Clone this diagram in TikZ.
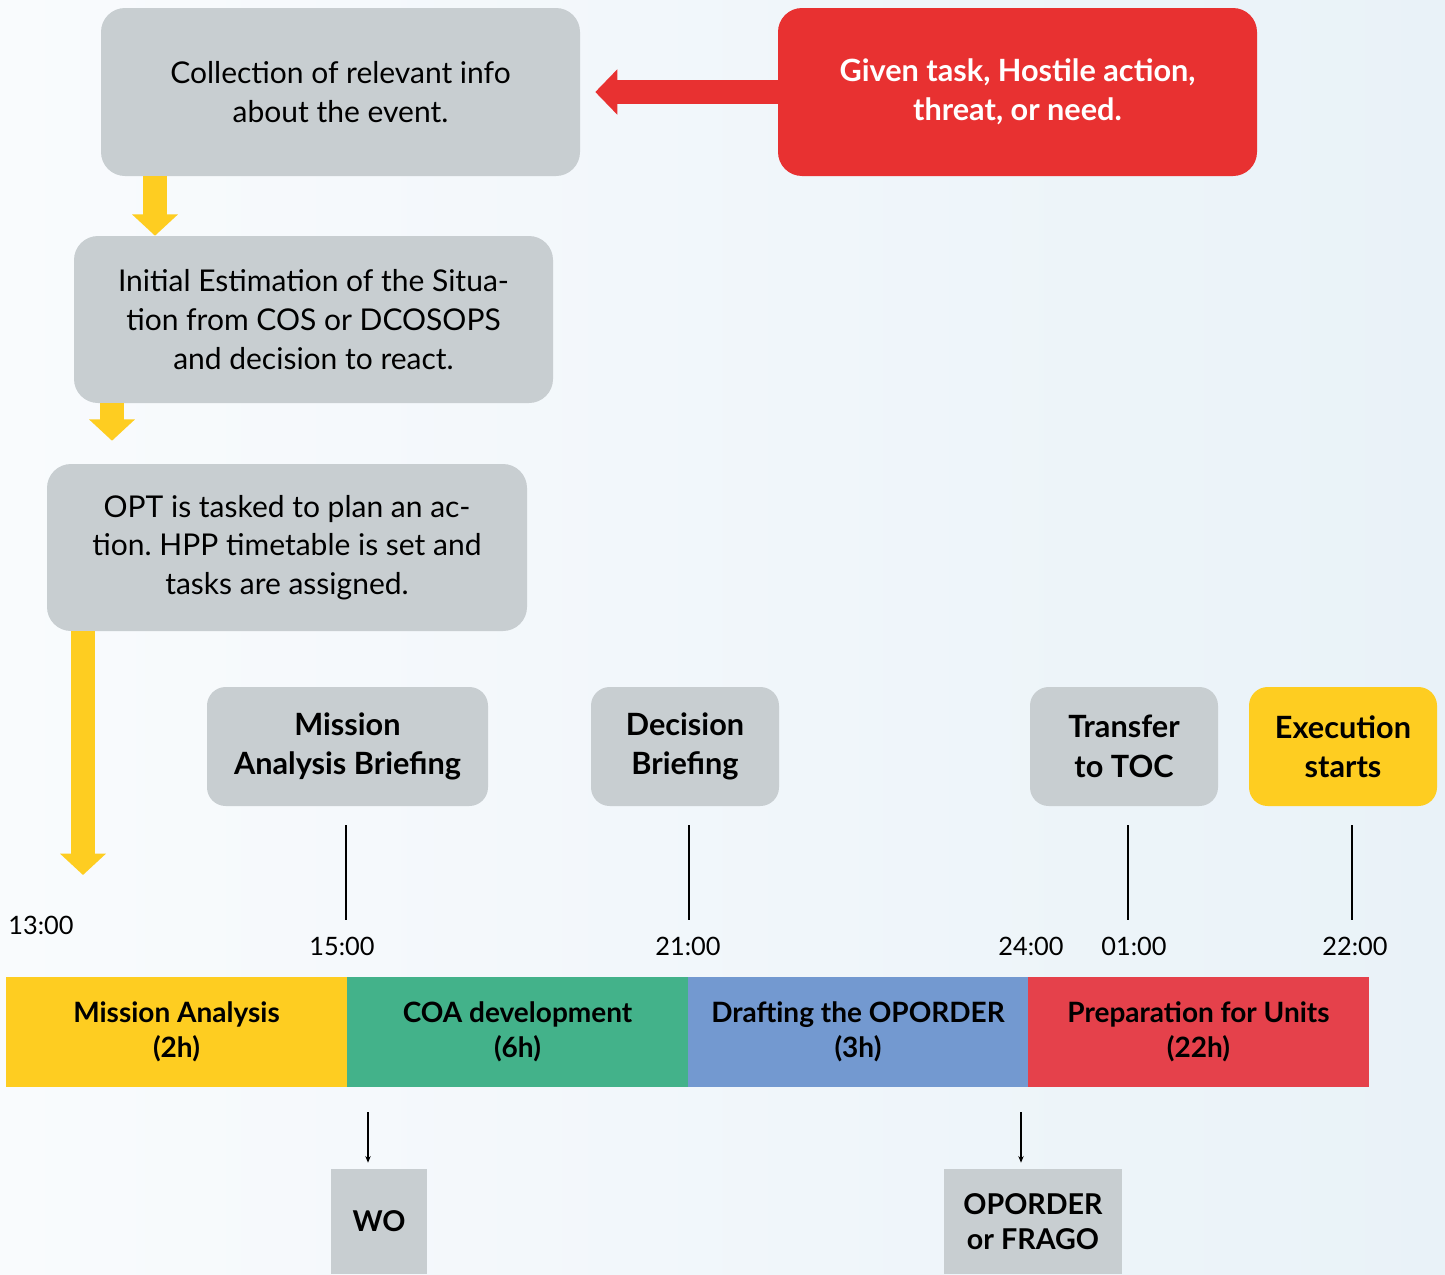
\documentclass[tikz,border=0pt]{standalone}
\usepackage{fontspec}
\setmainfont{Lato}
\frenchspacing
\usetikzlibrary{arrows.meta,calc}
\definecolor{bgA}{HTML}{F9FBFD}
\definecolor{bgB}{HTML}{E9F2F8}
\definecolor{gbox}{HTML}{C8CED1}
\definecolor{redbox}{HTML}{E83131}
\definecolor{ybox}{HTML}{FECD21}
\definecolor{gseg}{HTML}{43B28A}
\definecolor{bseg}{HTML}{7399D0}
\definecolor{rseg}{HTML}{E5414B}
\begin{document}
\begin{tikzpicture}[x=0.75pt,y=-0.75pt,
  infobox/.style={fill=gbox, rounded corners=18pt, align=center, inner sep=0pt,
    font=\fontsize{22.5}{29}\selectfont},
  headbox/.style={fill=gbox, rounded corners=14pt, align=center, inner sep=0pt,
    font=\bfseries\fontsize{23}{29.5}\selectfont, minimum height=89.25pt},
  segbox/.style={align=center, inner sep=0pt, minimum height=82.5pt, minimum width=255.75pt,
    font=\bfseries\fontsize{21}{26}\selectfont},
  docbox/.style={fill=gbox, align=center, inner sep=0pt, minimum height=78.75pt,
    font=\bfseries\fontsize{21.5}{26}\selectfont},
  timelbl/.style={font=\fontsize{19}{20}\selectfont, inner sep=0pt},
  tick/.style={line width=1.5pt, black},
  yarrow/.style={draw=ybox, line width=18pt, -{Triangle[width=33.5pt,length=16pt]}},
  rarrow/.style={draw=redbox, line width=18pt, -{Triangle[width=33pt,length=16.5pt]}},
  smallarrow/.style={line width=1.2pt, -{Stealth[length=5pt,width=4pt]}}
]
\useasboundingbox (0,0) rectangle (1445,1274);
\shade[left color=bgA, right color=bgB] (0,0) rectangle (1445,1274);

% top flow boxes
\node[infobox, minimum width=359.25pt, minimum height=126pt] (b1) at (340.5,92)
  {Collection of relevant info\\about the event.};
\node[infobox, fill=redbox, text=white, font=\bfseries\fontsize{23}{29}\selectfont,
  minimum width=359.25pt, minimum height=126pt] (given) at (1017.5,92)
  {Given task, Hostile action,\\threat, or need.};
\node[infobox, minimum width=359.25pt, minimum height=125.25pt] (b2) at (313.5,319.5)
  {Initial Estimation of the Situa-\\tion from COS or DCOSOPS\\and decision to react.};
\node[infobox, minimum width=360pt, minimum height=125.25pt] (b3) at (287,547.5)
  {OPT is tasked to plan an ac-\\tion. HPP timetable is set and\\tasks are assigned.};

% flow arrows
\draw[rarrow, shorten >=11.25pt] (given.west) -- (b1.east);
\coordinate (x1) at (155,0);
\coordinate (x2) at (112,0);
\coordinate (x3) at (83,0);
\coordinate (a3end) at (83,875);
\draw[yarrow] (b1.south -| x1) -- (b2.north -| x1);
\draw[yarrow] (b2.south -| x2) -- ($(b3.north -| x2)+(0,-23)$);
\draw[yarrow] (b3.south -| x3) -- (a3end);

% milestone boxes
\node[headbox, minimum width=210.75pt] (mab) at (347.5,746.5) {Mission\\Analysis Briefing};
\node[headbox, minimum width=141pt] (db) at (685,746.5) {Decision\\Briefing};
\node[headbox, minimum width=141pt] (tt) at (1124,746.5) {Transfer\\to TOC};
\node[headbox, fill=ybox, minimum width=141pt] (es) at (1343,746.5) {Execution\\starts};

% ticks
\coordinate (t1a) at (346,825); \coordinate (t1b) at (346,920);
\coordinate (t2a) at (689,825); \coordinate (t2b) at (689,920);
\coordinate (t3a) at (1128,825); \coordinate (t3b) at (1128,920);
\coordinate (t4a) at (1352,825); \coordinate (t4b) at (1352,920);
\draw[tick] (t1a) -- (t1b);
\draw[tick] (t2a) -- (t2b);
\draw[tick] (t3a) -- (t3b);
\draw[tick] (t4a) -- (t4b);

% time labels
\node[timelbl] (l13) at (41,925) {13:00};
\node[timelbl] (l15) at (342,946) {15:00};
\node[timelbl] (l21) at (688,946) {21:00};
\node[timelbl] (l24) at (1031,946) {24:00};
\node[timelbl] (l01) at (1134,946) {01:00};
\node[timelbl] (l22) at (1355,946) {22:00};

% bar
\node[segbox, fill=ybox] (s1) at (176.5,1032) {Mission Analysis\\(2h)};
\node[segbox, fill=gseg] (s2) at (517.5,1032) {COA development\\(6h)};
\node[segbox, fill=bseg, minimum width=255pt] (s3) at (858,1032) {Drafting the OPORDER\\(3h)};
\node[segbox, fill=rseg] (s4) at (1198.5,1032) {Preparation for Units\\(22h)};

% documents
\node[docbox, minimum width=72pt] (wo) at (379,1221.5) {WO};
\node[docbox, minimum width=133.5pt] (op) at (1033,1221.5) {OPORDER\\or FRAGO};
\coordinate (w0) at (368,1112);
\coordinate (o0) at (1021,1112);
\draw[smallarrow] (w0) -- ($(wo.north -| w0)+(0,-6)$);
\draw[smallarrow] (o0) -- ($(op.north -| o0)+(0,-6)$);
\end{tikzpicture}
\end{document}
